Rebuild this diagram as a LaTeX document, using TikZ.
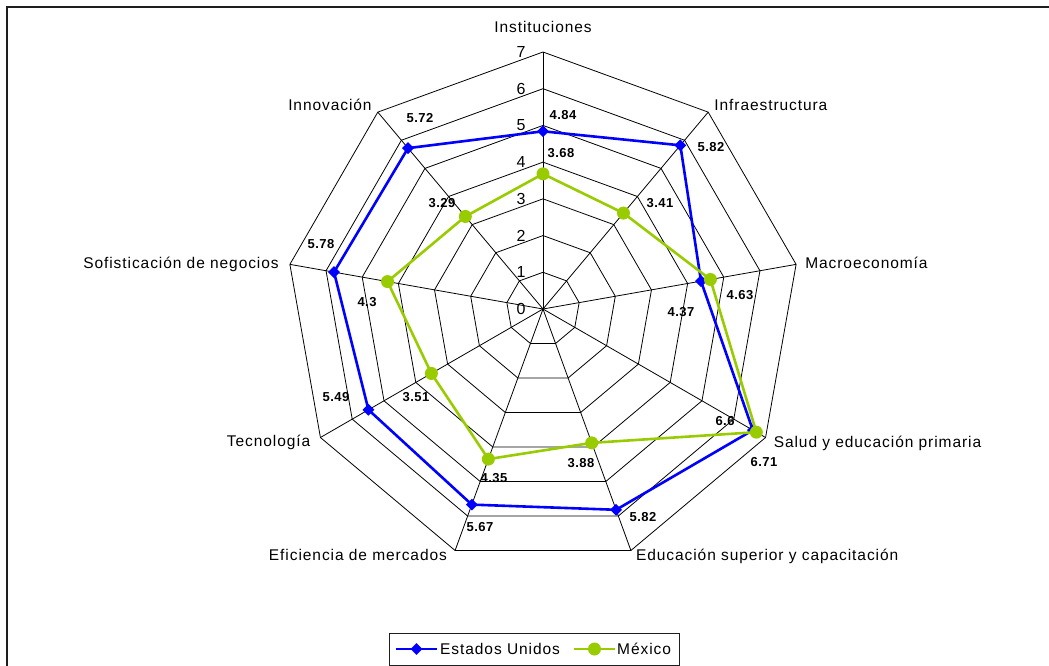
\documentclass[tikz,border=0pt]{standalone}
\usepackage{fontspec}
\setmainfont{Liberation Sans}
\newfontfamily\catfont[LetterSpace=6]{Liberation Sans}
\newfontfamily\valfont[LetterSpace=3.5]{Liberation Sans}
\usetikzlibrary{shapes.geometric}
\definecolor{usblue}{RGB}{0,0,255}
\definecolor{mxgreen}{RGB}{153,204,0}
\definecolor{framegray}{RGB}{30,30,30}

\begin{document}
\begin{tikzpicture}
[x=1pt,y=1pt,%
  grid/.style={black,line width=0.8pt},%
  usline/.style={draw=usblue,line width=2.6pt,line join=round},%
  mxline/.style={draw=mxgreen,line width=2.6pt,line join=round},%
  usmark/.style={diamond,fill=usblue,inner sep=0pt,minimum size=12pt},%
  mxmark/.style={circle,fill=mxgreen,inner sep=0pt,minimum size=13pt},%
  catlabel/.style={font=\catfont\fontsize{15.5}{18}\selectfont,inner sep=0pt},%
  ticklabel/.style={font=\catfont\fontsize{16}{18}\selectfont,inner sep=0pt},%
  vallabel/.style={font=\valfont\bfseries\fontsize{13}{15}\selectfont,inner sep=0pt},%
  legendbox/.style={draw=framegray,line width=0.9pt,minimum width=290pt,minimum height=32pt,inner sep=0pt}]
\useasboundingbox (-543,-357) rectangle (506,309);
\pgfmathsetmacro\unit{257/7}
% frame
\draw[framegray,line width=1.8pt] (-536,-357) -- (-536,302) -- (506,302);
% axes and rings
\coordinate (o) at (0,0);
\foreach \k in {0,...,8}
  \coordinate (ax\k) at (90-40*\k:7*\unit);
\foreach \r in {1,...,7}
  \draw[grid] (90:\r*\unit) \foreach \k in {1,...,8} {-- (90-40*\k:\r*\unit)} -- cycle;
\foreach \k in {0,...,8}
  \draw[grid] (o) -- (ax\k);
\foreach \r in {0,...,7}
  \node[ticklabel] (tick\r) at (-22,\r*\unit) {\r};
% categories
\node[catlabel,anchor=base] (cat0) at ([shift={(0,19)}]ax0) {Instituciones};
\node[catlabel,anchor=base west] (cat1) at ([shift={(6,2)}]ax1) {Infraestructura};
\node[catlabel,anchor=base west] (cat2) at ([shift={(9,-4)}]ax2) {Macroeconomía};
\node[catlabel,anchor=base west] (cat3) at ([shift={(8,-10)}]ax3) {Salud y educación primaria};
\node[catlabel,anchor=base west] (cat4) at ([shift={(5,-10)}]ax4) {Educación superior y capacitación};
\node[catlabel,anchor=base east] (cat5) at ([shift={(-8,-10)}]ax5) {Eficiencia de mercados};
\node[catlabel,anchor=base east] (cat6) at ([shift={(-10,-9)}]ax6) {Tecnología};
\node[catlabel,anchor=base east] (cat7) at ([shift={(-11,-4)}]ax7) {Sofisticación de negocios};
\node[catlabel,anchor=base east] (cat8) at ([shift={(-6,2)}]ax8) {Innovación};
% series
\foreach \v [count=\k from 0] in {4.84,5.82,4.37,6.6,5.82,5.67,5.49,5.78,5.72}
  \coordinate (us\k) at (90-40*\k:\v*\unit);
\foreach \v [count=\k from 0] in {3.68,3.41,4.63,6.71,3.88,4.35,3.51,4.3,3.29}
  \coordinate (mx\k) at (90-40*\k:\v*\unit);
\draw[usline] (us0) \foreach \k in {1,...,8} {-- (us\k)} -- cycle;
\foreach \k in {0,...,8}
  \node[usmark] (usm\k) at (us\k) {};
\draw[mxline] (mx0) \foreach \k in {1,...,8} {-- (mx\k)} -- cycle;
\foreach \k in {0,...,8}
  \node[mxmark] (mxm\k) at (mx\k) {};
% data labels
\foreach \p/\t [count=\i] in {{(20,194)}/4.84,{(168,162)}/5.82,{(138,-3)}/4.37,{(182,-112)}/6.6,
    {(100,-208)}/5.82,{(-63,-218)}/5.67,{(-207,-88)}/5.49,{(-222,65)}/5.78,{(-123,191)}/5.72}
  \node[vallabel] (usv\i) at \p {\t};
\foreach \p/\t [count=\i] in {{(18,156)}/3.68,{(117,106)}/3.41,{(197,14)}/4.63,{(221,-153)}/6.71,
    {(38,-154)}/3.88,{(-49,-169)}/4.35,{(-127,-88)}/3.51,{(-176,7)}/4.3,{(-101,106)}/3.29}
  \node[vallabel] (mxv\i) at \p {\t};
% legend
\node[legendbox] (legend) at (-9,-340) {};
\coordinate (lgus-a) at (-147,-340);
\coordinate (lgus-b) at (-106,-340);
\draw[usline] (lgus-a) -- (lgus-b);
\node[usmark] (lgus) at (-126.5,-340) {};
\node[catlabel,anchor=base west] (lgus-txt) at (-103,-345) {Estados Unidos};
\coordinate (lgmx-a) at (31,-340);
\coordinate (lgmx-b) at (72,-340);
\draw[mxline] (lgmx-a) -- (lgmx-b);
\node[mxmark] (lgmx) at (51.5,-340) {};
\node[catlabel,anchor=base west] (lgmx-txt) at (74,-345) {México};
\end{tikzpicture}
\end{document}
